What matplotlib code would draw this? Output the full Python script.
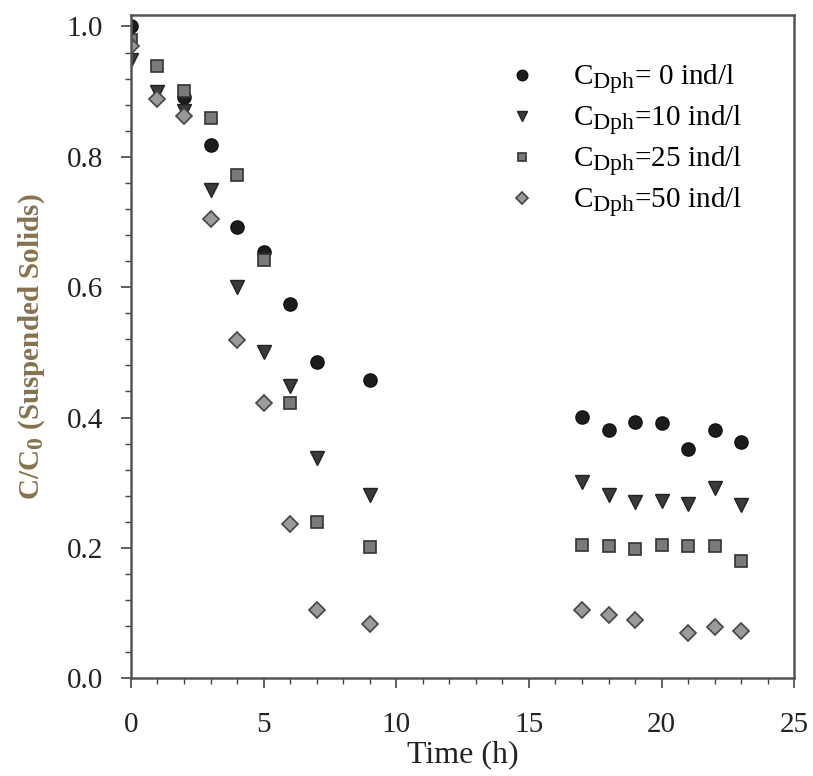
import numpy as np
import matplotlib
matplotlib.use('Agg')
import matplotlib.pyplot as plt
from matplotlib.ticker import MultipleLocator, FormatStrFormatter
import matplotlib._mathtext as mt

# subindices un poco mas grandes, como en la figura original
mt.SHRINK_FACTOR = 0.82

plt.rcParams['font.family'] = ['Liberation Serif', 'DejaVu Serif']
plt.rcParams['mathtext.fontset'] = 'custom'
plt.rcParams['mathtext.rm'] = 'Liberation Serif'
plt.rcParams['mathtext.it'] = 'Liberation Serif:italic'
plt.rcParams['mathtext.bf'] = 'Liberation Serif:bold'

# datos
t_0 = [0, 2, 3, 4, 5, 6, 7, 9, 17, 18, 19, 20, 21, 22, 23]
c_0 = [1.0, 0.892, 0.818, 0.693, 0.654, 0.574, 0.485, 0.458,
       0.401, 0.381, 0.393, 0.391, 0.352, 0.381, 0.362]

t_10 = [0, 1, 2, 3, 4, 5, 6, 7, 9, 17, 18, 19, 20, 21, 22, 23]
c_10 = [0.949, 0.899, 0.870, 0.749, 0.600, 0.500, 0.449, 0.338, 0.281,
        0.301, 0.281, 0.270, 0.272, 0.268, 0.292, 0.266]

t_25 = [0, 1, 2, 3, 4, 5, 6, 7, 9, 17, 18, 19, 20, 21, 22, 23]
c_25 = [0.980, 0.939, 0.901, 0.860, 0.772, 0.641, 0.422, 0.240, 0.202,
        0.205, 0.203, 0.199, 0.204, 0.203, 0.203, 0.180]

t_50 = [0, 1, 2, 3, 4, 5, 6, 7, 9, 17, 18, 19, 21, 22, 23]
c_50 = [0.970, 0.888, 0.863, 0.705, 0.519, 0.422, 0.236, 0.105, 0.083,
        0.105, 0.097, 0.089, 0.069, 0.079, 0.073]

etiquetas = [r'C$_{\mathrm{Dph}}$= 0 ind/l', r'C$_{\mathrm{Dph}}$=10 ind/l',
             r'C$_{\mathrm{Dph}}$=25 ind/l', r'C$_{\mathrm{Dph}}$=50 ind/l']

fig = plt.figure(figsize=(8.13, 7.76), dpi=100)
ax = fig.add_axes([0.161, 0.126, 0.816, 0.855])

ax.plot(t_0, c_0, 'o', ms=9.5, mfc='#1c1c1c', mec='#111111', mew=1, label=etiquetas[0])
ax.plot(t_10, c_10, 'v', ms=9.5, mfc='#3a3a3a', mec='#222222', mew=1, label=etiquetas[1])
ax.plot(t_25, c_25, 's', ms=8, mfc='#7a7a7a', mec='#333333', mew=1.2, label=etiquetas[2])
ax.plot(t_50, c_50, 'D', ms=8, mfc='#9a9a9a', mec='#444444', mew=1.2, label=etiquetas[3])

ax.set_xlim(0, 25)
ax.set_ylim(0, 1.018)
ax.xaxis.set_major_locator(MultipleLocator(5))
ax.xaxis.set_minor_locator(MultipleLocator(1))
ax.yaxis.set_major_locator(MultipleLocator(0.2))
ax.yaxis.set_minor_locator(MultipleLocator(0.04))
ax.yaxis.set_major_formatter(FormatStrFormatter('%.1f'))

ax.tick_params(which='both', direction='out', top=False, right=False,
               color='#444444', labelsize=21, labelcolor='#222222')
ax.tick_params(which='major', length=7, width=1.2)
ax.tick_params(which='minor', length=4.5, width=1.0)
ax.tick_params(axis='x', which='major', pad=17)
ax.tick_params(axis='y', which='major', pad=13)
for s in ax.spines.values():
    s.set_color('#555555')
    s.set_linewidth(1.8)

ax.set_xlabel('Time (h)', fontsize=23, color='#222222', labelpad=2)
ax.set_ylabel(r'C/C$_\mathbf{0}$ (Suspended Solids)', fontsize=21,
              color='#857250', fontweight='bold', labelpad=14)

ax.legend(loc='upper left', bbox_to_anchor=(0.546, 0.927), frameon=False,
          fontsize=21, handlelength=2.0, handletextpad=0.75, labelspacing=0.26,
          markerscale=0.8, borderaxespad=0.0, borderpad=0.0)

plt.savefig('out.png', dpi=100)
plt.close()
